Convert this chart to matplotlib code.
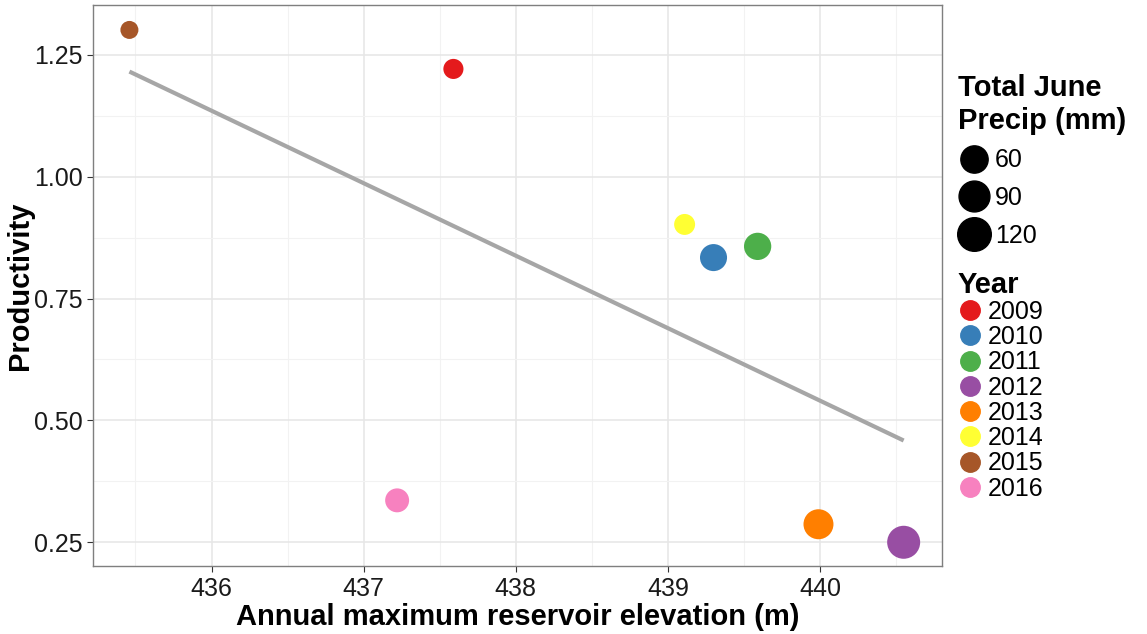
import numpy as np
import matplotlib
matplotlib.use("Agg")
import matplotlib.pyplot as plt
from matplotlib.lines import Line2D
from matplotlib.ticker import MultipleLocator

plt.rcParams['font.family'] = ['Liberation Sans', 'DejaVu Sans']

# data
years = ['2009', '2010', '2011', '2012', '2013', '2014', '2015', '2016']
elevation = [437.59, 439.30, 439.59, 440.55, 439.99, 439.11, 435.46, 437.22]
productivity = [1.221, 0.834, 0.857, 0.250, 0.287, 0.902, 1.301, 0.336]
precip = [33, 68, 70, 133, 96, 35, 31, 47]
colors = ['#E41A1C', '#377EB8', '#4DAF4A', '#984EA3', '#FF7F00', '#FFFF33', '#A65628', '#F781BF']
precip_breaks = [60, 90, 120]

# area-style size scale (diameter in pixels at dpi 100)
pmin, pmax = min(precip), max(precip)
def diam_pt(p):
    d_px = 18 + 15 * np.sqrt(max(p - pmin, 0) / (pmax - pmin))
    return d_px * 0.72

fig = plt.figure(figsize=(11.47, 6.34), dpi=100)
ax = fig.add_axes([0.081, 0.107, 0.740, 0.885])

x = np.array(elevation)
y = np.array(productivity)

# linear fit
slope, icept = np.polyfit(x, y, 1)
xs = np.array([x.min(), x.max()])
ax.plot(xs, slope * xs + icept, color='#A6A6A6', lw=3, solid_capstyle='butt', zorder=2)

sizes = [diam_pt(p) ** 2 for p in precip]
ax.scatter(x, y, s=sizes, c=colors, edgecolors='none', zorder=3)

ax.set_xlim(435.22, 440.80)
ax.set_ylim(0.201, 1.352)
ax.xaxis.set_major_locator(MultipleLocator(1))
ax.xaxis.set_minor_locator(MultipleLocator(0.5))
ax.yaxis.set_major_locator(MultipleLocator(0.25))
ax.yaxis.set_minor_locator(MultipleLocator(0.125))
ax.set_yticks([0.25, 0.5, 0.75, 1.0, 1.25])
ax.set_yticklabels(['0.25', '0.50', '0.75', '1.00', '1.25'])

ax.grid(which='major', color='#E6E6E6', lw=1.1, zorder=0)
ax.grid(which='minor', color='#F2F2F2', lw=0.8, zorder=0)
ax.set_axisbelow(True)
for s in ax.spines.values():
    s.set_color('#7F7F7F')
    s.set_linewidth(1.0)
ax.tick_params(which='major', length=4, color='#333333', labelsize=18, labelcolor='#1A1A1A')
ax.tick_params(which='minor', length=0)

ax.set_xlabel('Annual maximum reservoir elevation (m)', fontsize=21, fontweight='bold', labelpad=2)
ax.set_ylabel('Productivity', fontsize=21, fontweight='bold', labelpad=0)

# size legend
size_handles = [Line2D([], [], ls='none', marker='o', color='black', markersize=diam_pt(p) * 1.05)
                for p in precip_breaks]
leg1 = fig.legend(size_handles, [str(p) for p in precip_breaks],
                  title='Total June\nPrecip (mm)', loc='upper left',
                  bbox_to_anchor=(0.835, 0.883), frameon=False, fontsize=18,
                  title_fontproperties={'weight': 'bold', 'size': 21},
                  alignment='left', handletextpad=0.2, labelspacing=0.55,
                  handlelength=1.3, borderaxespad=0, borderpad=0)
leg1.get_title().set_linespacing(1.2)

# year legend
year_handles = [Line2D([], [], ls='none', marker='o', color=c, markersize=14) for c in colors]
leg2 = fig.legend(year_handles, years, title='Year', loc='upper left',
                  bbox_to_anchor=(0.835, 0.573), frameon=False, fontsize=18,
                  title_fontproperties={'weight': 'bold', 'size': 21},
                  alignment='left', handletextpad=0.2, labelspacing=0.05,
                  handlelength=1.0, borderaxespad=0, borderpad=0)

fig.savefig('out.png', dpi=100)
